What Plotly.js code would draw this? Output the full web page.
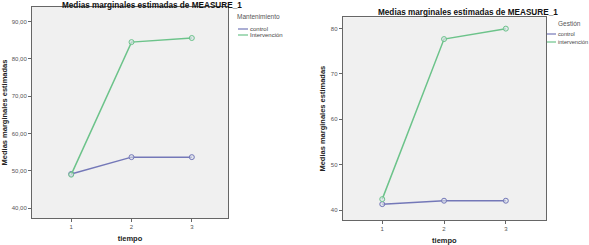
<!DOCTYPE html>
<html>
<head>
<meta charset="utf-8">
<script src="https://cdn.plot.ly/plotly-3.0.1.min.js"></script>
<style>html,body{margin:0;padding:0;background:#fff;}#chart{width:589px;height:245px;}</style>
</head>
<body>
<div id="chart"></div>
<script>
// ---- data ----
const tiempo = [1, 2, 3];
const mantControl = [49.2, 53.7, 53.7];
const mantIntervencion = [49.0, 84.5, 85.6];
const gestControl = [41.3, 42.05, 42.05];
const gestIntervencion = [42.4, 77.7, 80.0];
const leftTickVals = [40, 50, 60, 70, 80, 90];
const leftTickText = ["40,00", "50,00", "60,00", "70,00", "80,00", "90,00"];
const rightTickVals = [40, 50, 60, 70, 80];
const rightTickText = ["40", "50", "60", "70", "80"];
const chartTitle = "Medias marginales estimadas de MEASURE_1";
const yTitle = "Medias marginales estimadas";
const xTitle = "tiempo";
const leftLegendTitle = "Mantenimiento";
const leftLegendLabels = ["control", "Intervención"];
const rightLegendTitle = "Gestión";
const rightLegendLabels = ["control", "intervención"];

// ---- style ----
const cControl = "#7478b8";
const cInterv = "#6cc38a";
const FONT = "Liberation Sans, Arial, sans-serif";
const W = 589, H = 245;
const px = v => v / W;
const py = v => 1 - v / H;

function trace(x, y, color, xa, ya, name) {
  return {
    x: x, y: y, name: name, xaxis: xa, yaxis: ya, mode: "lines+markers",
    line: {color: color, width: 1.5},
    marker: {symbol: "circle", size: 5, color: "rgba(220,225,235,0.6)", line: {color: color, width: 1}},
    showlegend: false, hoverinfo: "x+y+name"
  };
}

const data = [
  trace(tiempo, mantControl, cControl, "x", "y", leftLegendLabels[0]),
  trace(tiempo, mantIntervencion, cInterv, "x", "y", leftLegendLabels[1]),
  trace(tiempo, gestControl, cControl, "x2", "y2", rightLegendLabels[0]),
  trace(tiempo, gestIntervencion, cInterv, "x2", "y2", rightLegendLabels[1])
];

const axBase = {
  showgrid: false, zeroline: false, showline: true, mirror: true,
  linecolor: "#666", linewidth: 1, ticks: "outside", ticklen: 3, tickcolor: "#666",
  tickfont: {family: FONT, size: 6, color: "#555"}, fixedrange: true
};
const xTitleObj = {text: "<b>" + xTitle + "</b>", font: {family: FONT, size: 7.5, color: "#222"}, standoff: 6};
const yTitleObj = {text: "<b>" + yTitle + "</b>", font: {family: FONT, size: 7.5, color: "#222"}, standoff: 4};

const layout = {
  width: W, height: H,
  margin: {l: 0, r: 0, t: 0, b: 0},
  paper_bgcolor: "#fff", plot_bgcolor: "#f0f0f0",
  showlegend: false,
  xaxis: Object.assign({}, axBase, {domain: [px(32), px(228)], range: [0.35, 3.6], tickvals: tiempo, ticktext: tiempo.map(String), anchor: "y", title: xTitleObj}),
  yaxis: Object.assign({}, axBase, {domain: [py(218), py(7)], range: [37.4, 93.9], tickvals: leftTickVals, ticktext: leftTickText, anchor: "x", title: yTitleObj}),
  xaxis2: Object.assign({}, axBase, {domain: [px(342.7), px(546)], range: [0.36, 3.65], tickvals: tiempo, ticktext: tiempo.map(String), anchor: "y2", title: xTitleObj}),
  yaxis2: Object.assign({}, axBase, {domain: [py(220), py(17.3)], range: [37.8, 82.5], tickvals: rightTickVals, ticktext: rightTickText, anchor: "x2", title: yTitleObj}),
  annotations: [],
  shapes: []
};

function addText(text, x, y, size, color, xanchor, bold) {
  layout.annotations.push({
    text: bold ? "<b>" + text + "</b>" : text, x: px(x), y: py(y), xref: "paper", yref: "paper",
    xanchor: xanchor, yanchor: "middle", showarrow: false, borderpad: 0,
    font: {family: FONT, size: size, color: color}
  });
}
function addLegendLine(x0, x1, y, color) {
  layout.shapes.push({type: "line", xref: "paper", yref: "paper", x0: px(x0), x1: px(x1), y0: py(y), y1: py(y), line: {color: color, width: 1.2}});
}

// chart titles
addText(chartTitle, 152, 6, 8.2, "#111", "center", true);
addText(chartTitle, 468, 12, 8.2, "#111", "center", true);

// left legend
addText(leftLegendTitle, 236, 17, 6.5, "#555", "left", false);
addLegendLine(238, 248, 29, cControl);
addText(leftLegendLabels[0], 249, 29, 6, "#444", "left", false);
addLegendLine(238, 248, 35, cInterv);
addText(leftLegendLabels[1], 249, 35, 6, "#444", "left", false);

// right legend
addText(rightLegendTitle, 557, 24, 6.5, "#555", "left", false);
addLegendLine(547, 556, 34, cControl);
addText(rightLegendLabels[0], 556.5, 34, 5.6, "#444", "left", false);
addLegendLine(547, 556, 42, cInterv);
addText(rightLegendLabels[1], 556.5, 42, 5.6, "#444", "left", false);

Plotly.newPlot("chart", data, layout, {displayModeBar: false, staticPlot: true});
</script>
</body>
</html>
